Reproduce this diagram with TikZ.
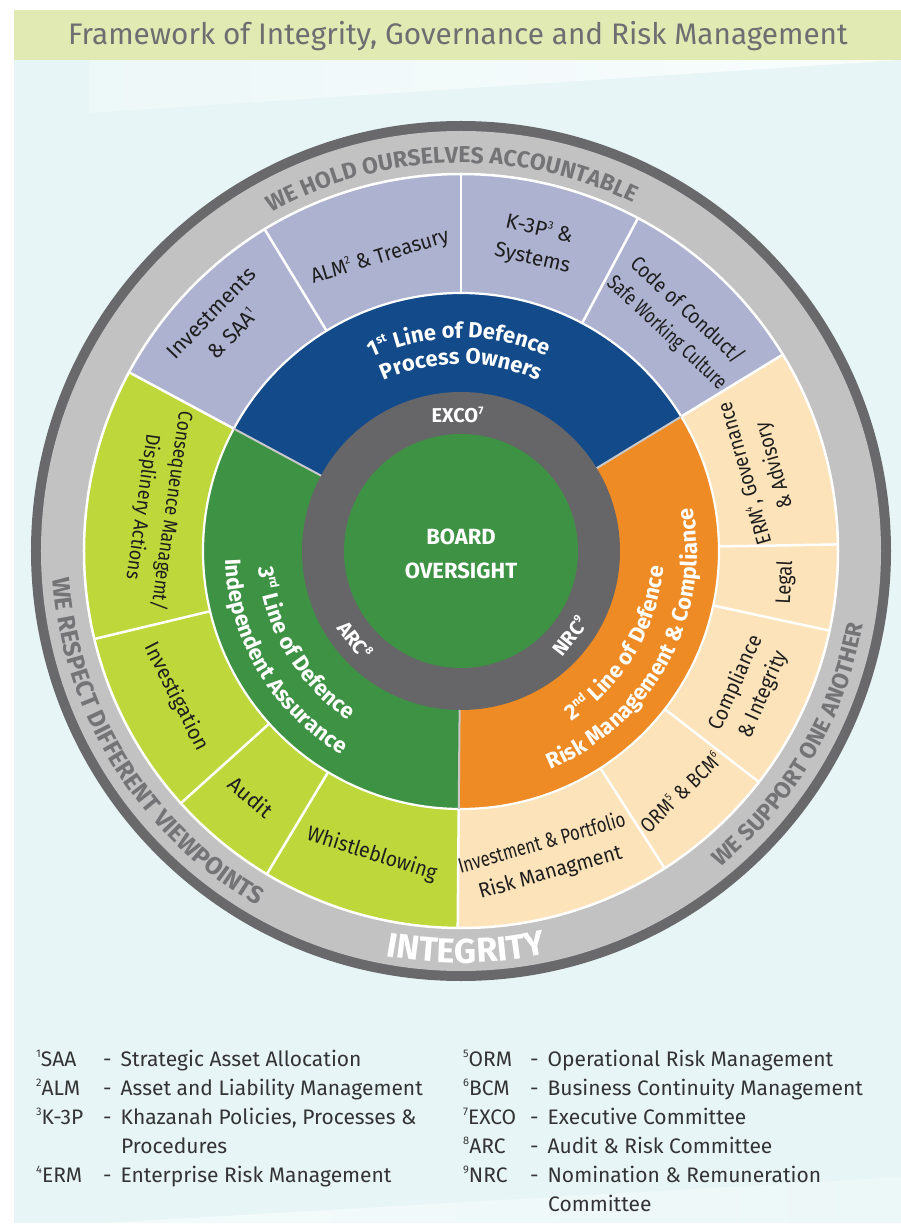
\documentclass[tikz,border=0pt]{standalone}
\usepackage{fontspec}
\usepackage{graphicx}
\setmainfont{Fira Sans}
\usetikzlibrary{decorations.text}

\definecolor{bgcyan}{HTML}{E7F5F6}
\definecolor{bandgreen}{HTML}{E2EAB3}
\definecolor{titlegray}{HTML}{6D6E71}
\definecolor{rimdark}{HTML}{69696B}
\definecolor{rimlight}{HTML}{C3C2C3}
\definecolor{rimink}{HTML}{747477}
\definecolor{lavender}{HTML}{ADB2D0}
\definecolor{limegreen}{HTML}{BED73B}
\definecolor{peach}{HTML}{FDE3BA}
\definecolor{navyblue}{HTML}{134A8A}
\definecolor{leafgreen}{HTML}{3D9244}
\definecolor{amber}{HTML}{EE8B24}
\definecolor{coregray}{HTML}{666668}
\definecolor{sepgray}{HTML}{C9C9CB}
\definecolor{inktext}{HTML}{1E1E1E}
\definecolor{legendink}{HTML}{333335}

\newcommand\sz[2]{\fontsize{#1}{#2}\selectfont}
\newcommand\supA[2][11]{\raisebox{0.42em}{\fontsize{#1}{#1}\selectfont #2}}
% one line of a label set to a given length (pt), height kept
\newcommand\fitline[2]{\resizebox{#1pt}{\height}{#2}}
% filled pie slice: colour, start angle, end angle, radius
\newcommand\kpie[4]{\fill[#1] (0,0) -- (#2:#4) arc[start angle=#2, end angle=#3, radius=#4] -- cycle;}
% legend row: name, abbreviation x, dash x, baseline y, abbreviation, meaning
\newcommand\keyrow[6]{%
  \node[legend] (#1-a) at (#2,#4) {#5};
  \node[legend] (#1-b) at (#3,#4) {-\hspace{9pt}#6};}

\tikzset{
  seglabel/.style={text=inktext, font=\sz{21}{30}, align=center, inner sep=0pt},
  corelabel/.style={text=white, font=\bfseries\sz{20}{20}, inner sep=0pt},
  legend/.style={text=legendink, font=\sz{21}{21}, anchor=base west, inner sep=0pt},
  rimlabel/.style={decorate, decoration={text along path, text align=center,
      text color=rimink, text={|\bfseries\sz{23}{23}|#1}}},
  ringlabel/.style={decorate, decoration={text along path, text align=center,
      text color=white, text={|\bfseries\sz{22}{22}|#1}}},
}

\begin{document}
\begin{tikzpicture}[x=1pt,y=1pt]
\useasboundingbox (-461,-675) rectangle (440,551);
\fill[white] (-461,-675) rectangle (440,551);

% page background, soft light wedges and title band
\fill[bgcyan] (-447,-672) rectangle (440,541);
\shade[left color=bgcyan!75!white, right color=bgcyan!25!white]
  (-372,491) -- (440,491) -- (-372,438) -- cycle;
\shade[left color=bgcyan!45!white, right color=bgcyan!80!white]
  (-358,-672) -- (440,-672) -- (440,-626) -- cycle;
\fill[bandgreen] (-447,491) rectangle (440,541);
\node[text=titlegray, font=\sz{29.7}{29.7}, anchor=base, inner sep=0pt] (title) at (-3,506)
  {Framework of Integrity, Governance and Risk Management};

% outer rims
\fill[rimdark] (0,0) circle[radius=430];
\fill[rimlight] (0,0) circle[radius=420];

% outer ring of functions
\kpie{lavender}{31.4}{151.7}{377}
\kpie{limegreen}{151.7}{269.5}{377}
\kpie{peach}{269.5}{391.4}{377}

% three lines of defence
\kpie{navyblue}{31.4}{151.7}{258}
\kpie{leafgreen}{151.7}{269.5}{258}
\kpie{amber}{269.5}{391.4}{258}

% committees ring and board core
\fill[coregray] (0,0) circle[radius=159];
\fill[leafgreen] (0,0) circle[radius=117];

% separators
\draw[white, line width=2.5] (0,0) circle[radius=377];
\draw[white, line width=2.2] (0,0) circle[radius=258];
\foreach \a in {31.4,62,90,121.4,151.7,193.5,222,239,269.5,-57.3,-37.8,-12.2,1}
  \draw[white, line width=2.5] (\a:258) -- (\a:377);
\foreach \a in {31.4,151.7,269.5}
  \draw[sepgray, line width=2] (\a:159) -- (\a:258);

% values written round the rim
\path[rimlabel={WE HOLD OURSELVES ACCOUNTABLE}]
  (140:388) arc[start angle=140, end angle=43, radius=388];
\path[decorate, decoration={text along path, text align=center,
    text color=rimink, text={|\bfseries\sz{24.5}{24.5}|WE RESPECT DIFFERENT VIEWPOINTS}}]
  (160:409) arc[start angle=160, end angle=264, radius=409];
\path[rimlabel={WE SUPPORT ONE ANOTHER}]
  (-80:409) arc[start angle=-80, end angle=19, radius=409];
\path[decorate, decoration={text along path, text align=center, text color=white,
    text={|\bfseries\sz{34.5}{34.5}|INTEGRITY}}]
  (240:412) arc[start angle=240, end angle=301.5, radius=412];

% lines of defence
\path[ringlabel={1{\supA[12]{st}} Line of Defence}]
  (140:213) arc[start angle=140, end angle=41, radius=213];
\path[ringlabel={Process Owners}]
  (140:187) arc[start angle=140, end angle=40, radius=187];
\path[ringlabel={3{\supA[12]{rd}} Line of Defence}]
  (160:203) arc[start angle=160, end angle=261, radius=203];
\path[ringlabel={Independent Assurance}]
  (160:236) arc[start angle=160, end angle=261.6, radius=236];
\path[ringlabel={2{\supA[12]{nd}} Line of Defence}]
  (-80:203) arc[start angle=-80, end angle=18.6, radius=203];
\path[ringlabel={Risk Management {\&} Compliance}]
  (-80:236) arc[start angle=-80, end angle=23, radius=236];

% committees and board
\node[corelabel, anchor=base] (exco) at (-3.5,128) {EXCO\supA{7}};
\node[corelabel, rotate=-52] (arc) at (220:138) {ARC\supA{8}};
\node[corelabel, rotate=52] (nrc) at (-38:138) {NRC\supA{9}};
\node[corelabel, font=\bfseries\sz{22}{33.5}, align=center] (board) at (0,-3) {BOARD\\OVERSIGHT};

% functions in the outer ring
\node[seglabel, rotate=46] (invest) at (136.4:330)
  {\fitline{118}{Investments}\\\fitline{61}{\& SAA\supA{1}}};
\node[seglabel, rotate=17] (alm) at (105.4:305) {\fitline{143}{ALM\supA{2} \& Treasury}};
\node[seglabel, rotate=-13] (k3p) at (76.3:316)
  {\fitline{68}{K-3P\supA{3} \&}\\\fitline{77}{Systems}};
\node[seglabel, rotate=-43] (code) at (46.7:315)
  {\fitline{146}{Code of Conduct/}\\\fitline{155}{Safe Working Culture}};
\node[seglabel, rotate=106] (erm) at (15.3:310)
  {\fitline{147}{ERM\supA{4}, Governance}\\\fitline{89}{\& Advisory}};
\node[seglabel, rotate=87] (legal) at (-5.6:326) {\fitline{43}{Legal}};
\node[seglabel, rotate=66] (compl) at (-25.5:320)
  {\fitline{102}{Compliance}\\\fitline{93}{\& Integrity}};
\node[seglabel, rotate=44] (orm) at (-47.7:326) {\fitline{104}{ORM\supA{5} \& BCM\supA{6}}};
\node[seglabel, rotate=16] (iprm) at (-74.5:319)
  {\fitline{173}{Investment \& Portfolio}\\\fitline{148}{Risk Managment}};
\node[seglabel, rotate=-17.5] (whistle) at (253.6:316) {\fitline{135}{Whistleblowing}};
\node[seglabel, rotate=-40.5] (audit) at (229.5:323) {\fitline{51}{Audit}};
\node[seglabel, rotate=-63] (investig) at (207.1:320) {\fitline{118}{Investigation}};
\node[seglabel, rotate=-98, font=\sz{20}{29}] (conseq) at (172.1:307)
  {\fitline{200}{Consequence Managemt/}\\\fitline{147}{Displinery Actions}};

% key to abbreviations
\keyrow{k1}{-425}{-358}{-515}{\supA{1}SAA}{Strategic Asset Allocation}
\keyrow{k2}{-425}{-358}{-544}{\supA{2}ALM}{Asset and Liability Management}
\keyrow{k3}{-425}{-358}{-573}{\supA{3}K-3P}{Khazanah Policies, Processes \&}
\node[legend] (k3-c) at (-340,-602) {Procedures};
\keyrow{k4}{-425}{-358}{-631}{\supA{4}ERM}{Enterprise Risk Management}
\keyrow{k5}{2}{69}{-515}{\supA{5}ORM}{Operational Risk Management}
\keyrow{k6}{2}{69}{-544}{\supA{6}BCM}{Business Continuity Management}
\keyrow{k7}{2}{69}{-573}{\supA{7}EXCO}{Executive Committee}
\keyrow{k8}{2}{69}{-602}{\supA{8}ARC}{Audit \& Risk Committee}
\keyrow{k9}{2}{69}{-631}{\supA{9}NRC}{Nomination \& Remuneration}
\node[legend] (k9-c) at (87,-660) {Committee};
\end{tikzpicture}
\end{document}
